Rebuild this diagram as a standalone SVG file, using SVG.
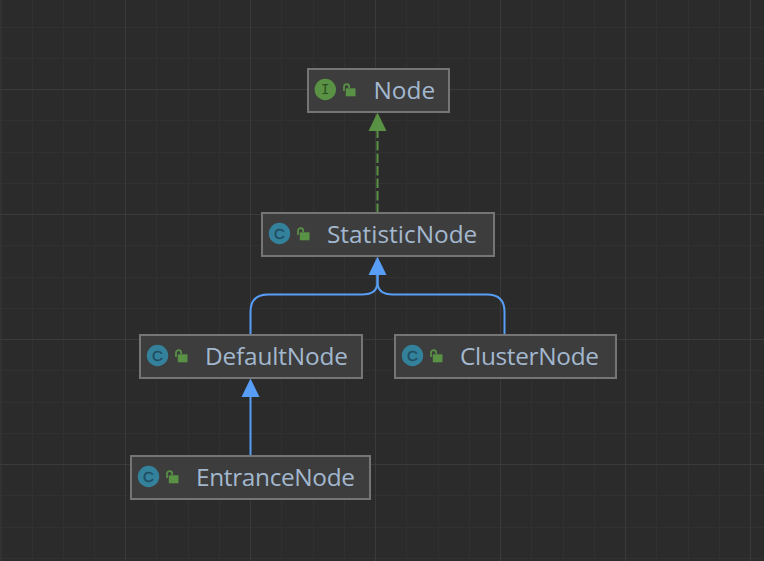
<svg xmlns="http://www.w3.org/2000/svg" width="764" height="561" viewBox="0 0 764 561">
<style>
.minor{stroke:#313131;stroke-width:1;fill:none}
.major{stroke:#3a3a3a;stroke-width:1;fill:none}
.box{fill:#3d3d3d;stroke:#757575;stroke-width:2}
.label{font-family:"Open Sans","Noto Sans",sans-serif;font-size:24.4px;fill:#a3b8cf}
.blue{stroke:#589df6;stroke-width:2;fill:none}
.cc{fill:#34819c}
.ci{fill:#5a9245}
.glyph{font-family:"Liberation Sans",sans-serif;font-size:15px;fill:#1f4d60;stroke:#1f4d60;stroke-width:.4;text-anchor:middle}
.glyphi{font-family:"Liberation Mono",monospace;font-size:14px;fill:#2a4f20;text-anchor:middle}
.lock{fill:#5a9245}
.shackle{fill:none;stroke:#5a9245;stroke-width:1.7}
</style>
<defs>
<g id="lock"><rect x="2.800" y="4.300" width="9.700" height="8" class="lock"/><path d="M1 7V2.800A2.600 2.600 0 0 1 6.200 2.800V4" class="shackle"/></g>
</defs>
<rect width="764" height="561" fill="#2b2b2b"/>
<g id="grid">
<path class="minor" d="M32.500 0V561M63.500 0V561M94.500 0V561M156.500 0V561M188.500 0V561M219.500 0V561M281.500 0V561M313.500 0V561M344.500 0V561M406.500 0V561M438.500 0V561M469.500 0V561M531.500 0V561M563.500 0V561M594.500 0V561M656.500 0V561M688.500 0V561M719.500 0V561"/>
<path class="minor" d="M0 27.500H764M0 58.500H764M0 120.500H764M0 152.500H764M0 183.500H764M0 245.500H764M0 277.500H764M0 308.500H764M0 370.500H764M0 402.500H764M0 433.500H764M0 495.500H764M0 527.500H764M0 558.500H764"/>
<path class="major" d="M1 0V561M125.500 0V561M250.500 0V561M375.500 0V561M500.500 0V561M625.500 0V561M750.500 0V561M0 89.500H764M0 214.500H764M0 339.500H764M0 464.500H764"/>
</g>
<g id="connectors">
<path d="M377.500 213V130" fill="none" stroke="#5a9245" stroke-width="2" stroke-dasharray="9.500 3"/>
<path d="M377.500 112.500L368.500 131H386.500Z" fill="#5a9245"/>
<path class="blue" d="M377.500 275V282Q377.500 294.500 362 294.500H268Q250.500 294.500 250.500 312V334"/>
<path class="blue" d="M377.500 275V282Q377.500 294.500 393 294.500H487Q504.500 294.500 504.500 312V334"/>
<path d="M377.500 256.500L368.500 275H386.500Z" fill="#589df6"/>
<path class="blue" d="M250.500 396V456"/>
<path d="M250.500 378.500L241.500 397H259.500Z" fill="#589df6"/>
</g>
<g id="node-node">
<rect class="box" x="308" y="69" width="141" height="43"/>
<circle class="ci" cx="325.300" cy="89.500" r="10.700"/>
<text class="glyphi" x="325.300" y="94">I</text>
<use href="#lock" x="343" y="84"/>
<text class="label" x="373.500" y="99">Node</text>
</g>
<g id="node-statisticnode">
<rect class="box" x="262" y="213" width="232" height="43"/>
<circle class="cc" cx="279.500" cy="233.500" r="10.700"/>
<text class="glyph" x="279.500" y="238.800">C</text>
<use href="#lock" x="297" y="228"/>
<text class="label" x="327" y="243">StatisticNode</text>
</g>
<g id="node-defaultnode">
<rect class="box" x="140" y="335" width="222" height="43"/>
<circle class="cc" cx="157.500" cy="355.500" r="10.700"/>
<text class="glyph" x="157.500" y="360.800">C</text>
<use href="#lock" x="175" y="350"/>
<text class="label" x="205" y="365" textLength="143">DefaultNode</text>
</g>
<g id="node-clusternode">
<rect class="box" x="395" y="335" width="221" height="43"/>
<circle class="cc" cx="412.500" cy="355.500" r="10.700"/>
<text class="glyph" x="412.500" y="360.800">C</text>
<use href="#lock" x="430" y="350"/>
<text class="label" x="460" y="365" textLength="139">ClusterNode</text>
</g>
<g id="node-entrancenode">
<rect class="box" x="131" y="456" width="239" height="43"/>
<circle class="cc" cx="148.500" cy="476.500" r="10.700"/>
<text class="glyph" x="148.500" y="481.800">C</text>
<use href="#lock" x="166" y="471"/>
<text class="label" x="196" y="486" textLength="159">EntranceNode</text>
</g>
</svg>
